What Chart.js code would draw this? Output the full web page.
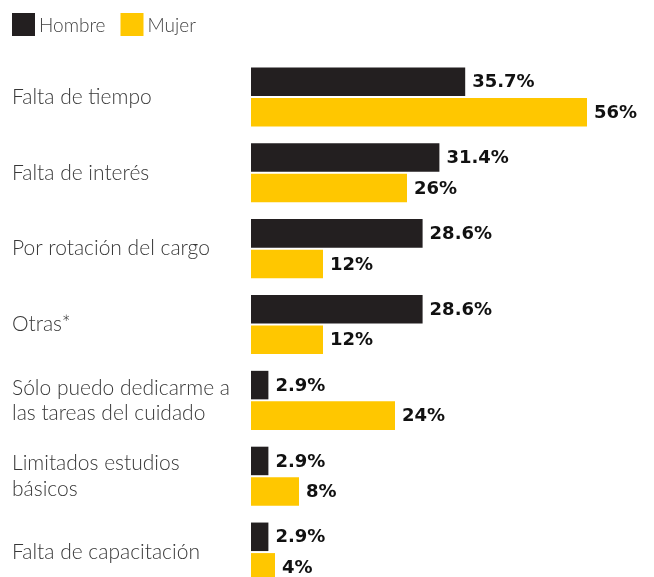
<!DOCTYPE html>
<html lang="es"><head>
<meta charset="utf-8">
<title>Motivos por sexo</title>
<style type="text/css">
html, body { margin:0; padding:0; background:#ffffff; overflow:hidden; }
#wrap { width:654px; height:600px; }
</style>
<script src="https://cdn.jsdelivr.net/npm/chart.js"></script>
<script>
// categorias y valores (%)
categorias=[
  "Falta de tiempo",
  "Falta de interés",
  "Por rotación del cargo",
  "Otras*",
  ["Sólo puedo dedicarme a","las tareas del cuidado"],
  ["Limitados estudios","básicos"],
  "Falta de capacitación"];
hombre=[35.7,31.4,28.6,28.6,2.9,2.9,2.9];
mujer=[56,26,12,12,24,8,4];
etiquetasHombre=["35.7%","31.4%","28.6%","28.6%","2.9%","2.9%","2.9%"];
etiquetasMujer=["56%","26%","12%","12%","24%","8%","4%"];

colorHombre='#231f20'; colorMujer='#ffc700';

// porcentajes escritos al final de cada barra
valorPlugin={id:'valores',afterDatasetsDraw(chart) {
  ctx=chart.ctx; ctx.save();
  ctx.font='bold 18px "DejaVu Sans",sans-serif'; ctx.fillStyle='#111111';
  ctx.textAlign='left'; ctx.textBaseline='middle';
  chart.data.datasets.forEach(function(ds,i) {
    meta=chart.getDatasetMeta(i);
    meta.data.forEach(function(bar,j) {
      ctx.fillText(ds.etiquetas[j],bar.x+7,bar.y+1); }); });
  ctx.restore(); }};

// leyenda simple arriba a la izquierda
leyendaPlugin={id:'leyenda',afterDraw(chart) {
  ctx=chart.ctx; ctx.save();
  ctx.font='300 19px Lato,sans-serif'; ctx.textBaseline='middle'; ctx.textAlign='left';
  x=12;
  chart.data.datasets.forEach(function(ds) {
    ctx.fillStyle=ds.backgroundColor; ctx.fillRect(x,13,23,23);
    ctx.fillStyle='#444444'; ctx.fillText(ds.label,x+27,26);
    x+=27+ctx.measureText(ds.label).width+15; });
  ctx.restore(); }};

function initChart() {
  data={labels:categorias,datasets:[{
    label:'Hombre',data:hombre,etiquetas:etiquetasHombre,
    backgroundColor:colorHombre,borderWidth:0,
    categoryPercentage:0.805,barPercentage:0.934},{
    label:'Mujer',data:mujer,etiquetas:etiquetasMujer,
    backgroundColor:colorMujer,borderWidth:0,
    categoryPercentage:0.805,barPercentage:0.934}]};

  config={type:'bar',data,plugins:[valorPlugin,leyendaPlugin],options:{
    indexAxis:'y',responsive:false,animation:false,
    layout:{padding:{left:12,top:59,right:13,bottom:10}},
    scales:{
      x:{display:false,min:0,max:65},
      y:{grid:{display:false},border:{display:false},
        afterFit:function(scale){scale.width=239; scale.paddingTop=0; scale.paddingBottom=0;},
        ticks:{crossAlign:'far',padding:0,color:'#383838',
          font:{family:'Lato',size:21,weight:'300',lineHeight:1.2}}}},
    plugins:{legend:{display:false},tooltip:{enabled:false}}}};

  myChart=new Chart(document.getElementById('myChart'),config); }
</script></head>
<body onload="initChart();">
<div id="wrap">
  <canvas id="myChart" width="654" height="600"></canvas>
</div>
</body></html>
